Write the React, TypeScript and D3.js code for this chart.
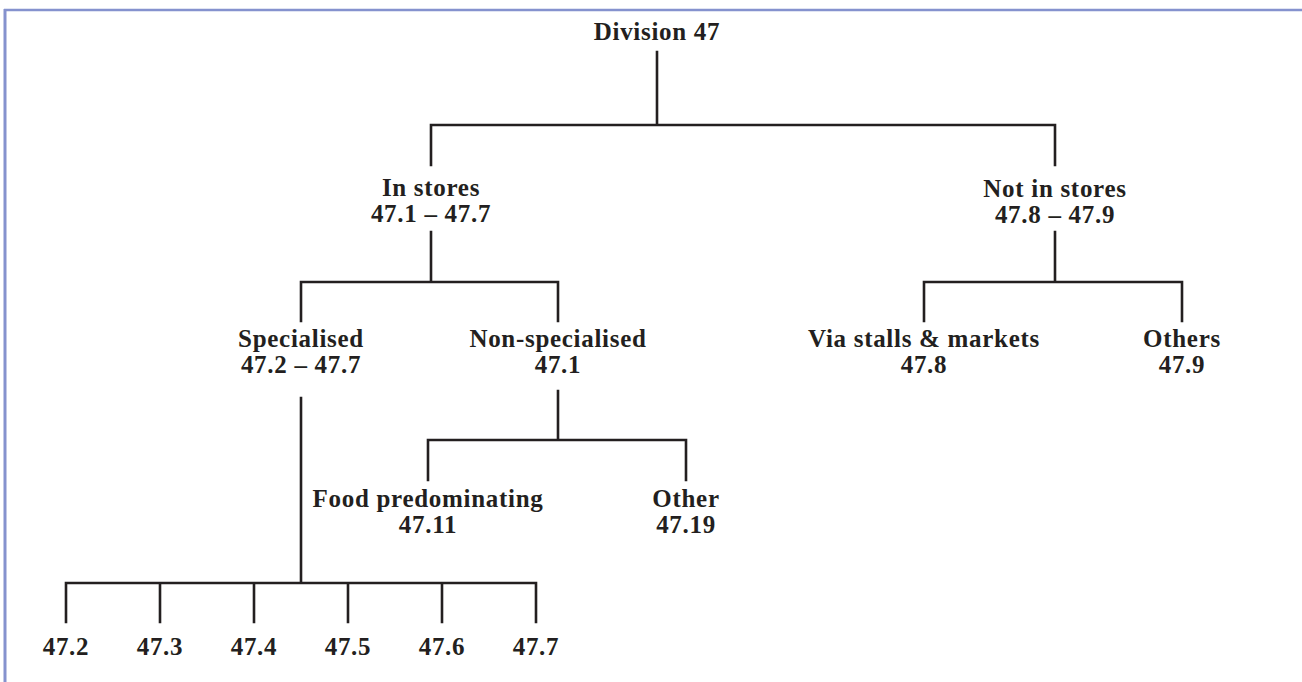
import React from "react";
import * as d3 from "d3";

// ---- Data: tree structure and labels ----
const nodeIds = [
  "div47", "inStores", "notInStores", "specialised", "nonSpecialised",
  "viaStalls", "others", "food", "other",
  "c472", "c473", "c474", "c475", "c476", "c477",
];
const parentIds = [
  "", "div47", "div47", "inStores", "inStores",
  "notInStores", "notInStores", "nonSpecialised", "nonSpecialised",
  "specialised", "specialised", "specialised", "specialised", "specialised", "specialised",
];
const titles = [
  "Division 47", "In stores", "Not in stores", "Specialised", "Non-specialised",
  "Via stalls & markets", "Others", "Food predominating", "Other",
  "", "", "", "", "", "",
];
const codes = [
  "", "47.1 – 47.7", "47.8 – 47.9", "47.2 – 47.7", "47.1",
  "47.8", "47.9", "47.11", "47.19",
  "47.2", "47.3", "47.4", "47.5", "47.6", "47.7",
];

// ---- Layout (positions, not data) ----
const W = 1302;
const H = 682;
const INK = "#231f20";
const BORDER = "#8592ce";
const FONT = "'Liberation Serif', 'Times New Roman', serif";

// per-node layout: x centre, y where incoming connector ends, baseline of first text line
const nodeLayout: Record<string, { x: number; inEnd: number; baseline: number }> = {
  div47: { x: 657, inEnd: 0, baseline: 40 },
  inStores: { x: 431, inEnd: 165, baseline: 196 },
  notInStores: { x: 1055, inEnd: 165, baseline: 197 },
  specialised: { x: 301, inEnd: 321, baseline: 347 },
  nonSpecialised: { x: 558, inEnd: 321, baseline: 347 },
  viaStalls: { x: 924, inEnd: 321, baseline: 347 },
  others: { x: 1182, inEnd: 321, baseline: 347 },
  food: { x: 428, inEnd: 480, baseline: 507 },
  other: { x: 686, inEnd: 480, baseline: 507 },
};
// per-parent layout: y where outgoing stem starts, y of the horizontal bar
const parentLayout: Record<string, { outStart: number; barY: number }> = {
  div47: { outStart: 52, barY: 125 },
  inStores: { outStart: 232, barY: 282 },
  notInStores: { outStart: 232, barY: 282 },
  specialised: { outStart: 398, barY: 583 },
  nonSpecialised: { outStart: 391, barY: 440 },
};
// leaf row under "Specialised"
const leafRange: [number, number] = [66, 536];
const leafInEnd = 622;
const leafBaseline = 655;
const LINE_GAP = 26;

export default function App() {
  const rows = nodeIds.map((id, i) => ({
    id,
    parent: parentIds[i] || null,
    title: titles[i],
    code: codes[i],
  }));
  const root = d3
    .stratify<typeof rows[number]>()
    .id((d) => d.id)
    .parentId((d) => d.parent)(rows);

  const specialisedNode = root.descendants().find((d) => d.id === "specialised")!;
  const leafScale = d3
    .scalePoint<string>()
    .domain((specialisedNode.children || []).map((c) => c.id as string))
    .range(leafRange);

  const pos = (n: d3.HierarchyNode<any>) => {
    const id = n.id as string;
    if (nodeLayout[id]) return nodeLayout[id];
    return { x: leafScale(id) as number, inEnd: leafInEnd, baseline: leafBaseline };
  };

  const paths: string[] = [];
  root.descendants().forEach((n) => {
    if (!n.children) return;
    const pl = parentLayout[n.id as string];
    const p = pos(n);
    const xs = n.children.map((c) => pos(c).x);
    const path = d3.path();
    path.moveTo(p.x, pl.outStart);
    path.lineTo(p.x, pl.barY);
    path.moveTo(d3.min(xs)!, pl.barY);
    path.lineTo(d3.max(xs)!, pl.barY);
    n.children.forEach((c) => {
      const cp = pos(c);
      path.moveTo(cp.x, pl.barY);
      path.lineTo(cp.x, cp.inEnd);
    });
    paths.push(path.toString());
  });

  return (
    <svg
      width={W}
      height={H}
      style={{ position: "absolute", left: 0, top: 0, display: "block", background: "#fff" }}
    >
      <line x1={4} x2={W} y1={10} y2={10} stroke={BORDER} strokeWidth={2.5} />
      <line x1={5} x2={5} y1={9} y2={H} stroke={BORDER} strokeWidth={3} />
      {paths.map((d, i) => (
        <path key={i} d={d} fill="none" stroke={INK} strokeWidth={2.6} strokeLinecap="square" />
      ))}
      {root.descendants().map((n) => {
        const p = pos(n);
        const lines = [n.data.title, n.data.code].filter((s) => s);
        return (
          <text
            key={n.id}
            x={p.x}
            y={p.baseline}
            textAnchor="middle"
            fontFamily={FONT}
            fontWeight="bold"
            fontSize={25}
            letterSpacing={0.7}
            fill={INK}
          >
            {lines.map((s, i) => (
              <tspan key={i} x={p.x} y={p.baseline + i * LINE_GAP}>
                {s}
              </tspan>
            ))}
          </text>
        );
      })}
    </svg>
  );
}
